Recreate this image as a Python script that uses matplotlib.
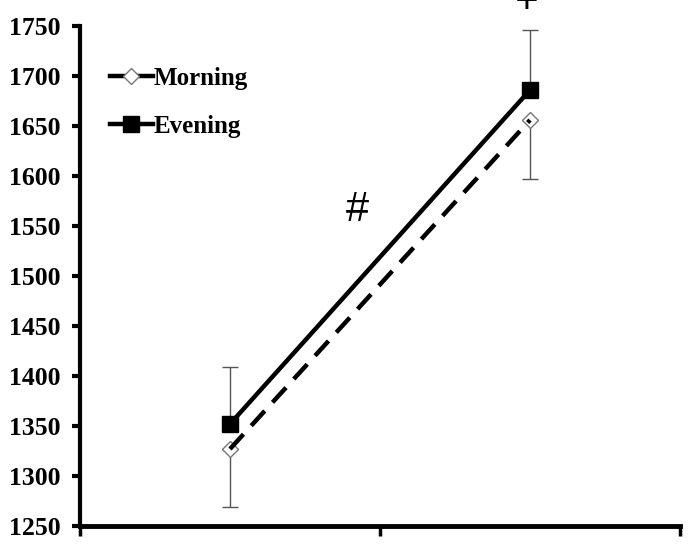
import matplotlib
matplotlib.use("Agg")
import matplotlib.pyplot as plt
from matplotlib.lines import Line2D

# Data
x_pos = [0.5, 1.5]
morning = [1327, 1656]
morning_sd = [58, 59]
evening = [1352, 1686]
evening_sd = [57, 60]
y_ticks = [1250, 1300, 1350, 1400, 1450, 1500, 1550, 1600, 1650, 1700, 1750]
series_labels = ["Morning", "Evening"]

serif = ["Liberation Serif", "DejaVu Serif"]

fig = plt.figure(figsize=(6.93, 5.46), dpi=100)
ax = fig.add_axes([80 / 693, 20 / 546, 600 / 693, 500 / 546])

# Error bars: evening upward, morning downward
ax.errorbar(x_pos, evening, yerr=[[0, 0], evening_sd], fmt="none",
            ecolor="#555555", elinewidth=1, capsize=6, capthick=1, zorder=2)
ax.errorbar(x_pos, morning, yerr=[morning_sd, [0, 0]], fmt="none",
            ecolor="#555555", elinewidth=1, capsize=6, capthick=1, zorder=2)

# Morning: dashed line over open diamonds
ax.plot(x_pos, morning, linestyle="none", marker="D", markersize=8.5,
        markerfacecolor="white", markeredgecolor="#777777",
        markeredgewidth=1, zorder=3)
ax.plot(x_pos, morning, color="black", linewidth=3.2, dashes=(4.5, 2.6),
        zorder=4)

# Evening: solid line with filled squares
ax.plot(x_pos, evening, color="black", linewidth=3.2, marker="s",
        markersize=11, markerfacecolor="black", markeredgecolor="black",
        zorder=5)

# Significance marks
ax.text(0.925, 1566, "#", fontsize=30, fontweight="medium",
        family=["Liberation Sans", "DejaVu Sans"], ha="center", va="center")
ax.text(1.49, 1773, "+", fontsize=30, fontweight="bold", family=serif,
        ha="center", va="center", clip_on=False)

ax.set_xlim(0, 2)
ax.set_ylim(1250, 1750)
ax.set_xticks([0, 1, 2])
ax.set_xticklabels([])
ax.set_yticks(y_ticks)
ax.set_yticklabels([str(v) for v in y_ticks], fontsize=18.5,
                   fontweight="bold", family=serif)

for side in ("top", "right"):
    ax.spines[side].set_visible(False)
ax.spines["left"].set_linewidth(3)
ax.spines["bottom"].set_linewidth(3.5)
ax.tick_params(axis="y", direction="out", length=6, width=3, pad=8)
ax.tick_params(axis="x", direction="out", length=7, width=2.5)

handles = [
    Line2D([], [], color="black", linewidth=3.2, marker="D", markersize=8,
           markerfacecolor="white", markeredgecolor="#777777",
           markeredgewidth=1),
    Line2D([], [], color="black", linewidth=3.2, marker="s", markersize=11,
           markerfacecolor="black"),
]
ax.legend(handles, series_labels, loc="upper left",
          bbox_to_anchor=(0.05, 0.918), frameon=False, handlelength=1.7,
          handletextpad=0.05, labelspacing=1.0, borderpad=0, borderaxespad=0,
          prop={"family": serif, "weight": "bold", "size": 18})

fig.savefig("out.png", dpi=100)
